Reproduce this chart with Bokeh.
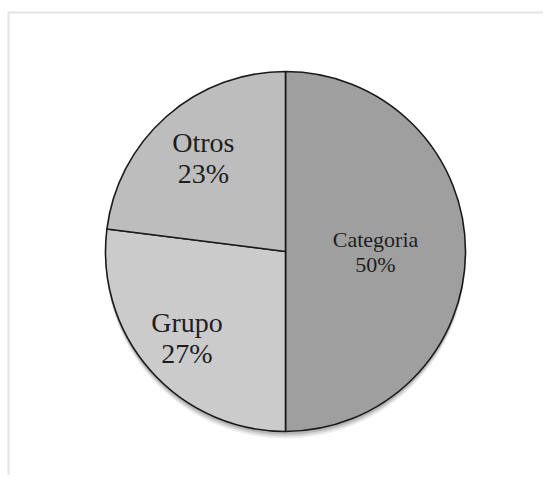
import math
from bokeh.plotting import figure
from bokeh.models import ColumnDataSource, Range1d, BoxAnnotation
from bokeh.core.properties import value
from bokeh.embed import file_html
from bokeh.resources import INLINE

# ---- data ----
categories = ["Categoria", "Grupo", "Otros"]
values = [50, 27, 23]
colors = ["#9f9f9f", "#cbcbcb", "#bdbdbd"]
label_sizes = ["22px", "28px", "28px"]
label_radius_frac = [0.5, 0.73, 0.69]

W, H = 543, 475
p = figure(width=W, height=H, output_backend="svg", toolbar_location=None,
           x_range=Range1d(0, W), y_range=Range1d(0, H), min_border=0,
           x_axis_type=None, y_axis_type=None)
p.grid.visible = False
p.outline_line_color = None
p.background_fill_color = "white"
p.border_fill_color = "white"

# chart box border (left and top visible)
p.add_layout(BoxAnnotation(left=8, right=W + 60, top=H - 12, bottom=-60,
                           fill_alpha=0, line_color="#a3a3a3", line_width=2))

cx, cy, r = 285, H - 251, 180

# soft shadow
for i, a in zip([7, 5, 3], [0.07, 0.10, 0.14]):
    p.circle(x=[cx], y=[cy - i], radius=r, fill_color="black", fill_alpha=a,
             line_color=None)

total = sum(values)
starts, ends, mids = [], [], []
ang = math.pi / 2
for v in values:
    sweep = v / total * 2 * math.pi
    starts.append(ang)
    ends.append(ang - sweep)
    mids.append(ang - sweep / 2)
    ang -= sweep

src = ColumnDataSource(dict(
    x=[cx] * len(values), y=[cy] * len(values),
    start=starts, end=ends, color=colors))
p.wedge(x="x", y="y", radius=r, start_angle="start", end_angle="end",
        direction="clock", fill_color="color", line_color="#1a1a1a",
        line_width=1.6, source=src)

lx = [cx + f * r * math.cos(m) for f, m in zip(label_radius_frac, mids)]
ly = [cy + f * r * math.sin(m) for f, m in zip(label_radius_frac, mids)]
pct = [f"{round(v / total * 100)}%" for v in values]
half = [12.5 if s == "22px" else 15.5 for s in label_sizes]

lsrc = ColumnDataSource(dict(x=lx, y=ly, name=categories, pct=pct,
                             size=label_sizes,
                             off1=[-h for h in half], off2=half))
p.text(x="x", y="y", text="name", y_offset="off1", text_font=value("Liberation Serif"),
       text_font_size="size", text_align="center", text_baseline="middle",
       text_color="#1e1e1e", source=lsrc)
p.text(x="x", y="y", text="pct", y_offset="off2", text_font=value("Liberation Serif"),
       text_font_size="size", text_align="center", text_baseline="middle",
       text_color="#1e1e1e", source=lsrc)

open("out.html", "w").write(file_html(p, INLINE))
